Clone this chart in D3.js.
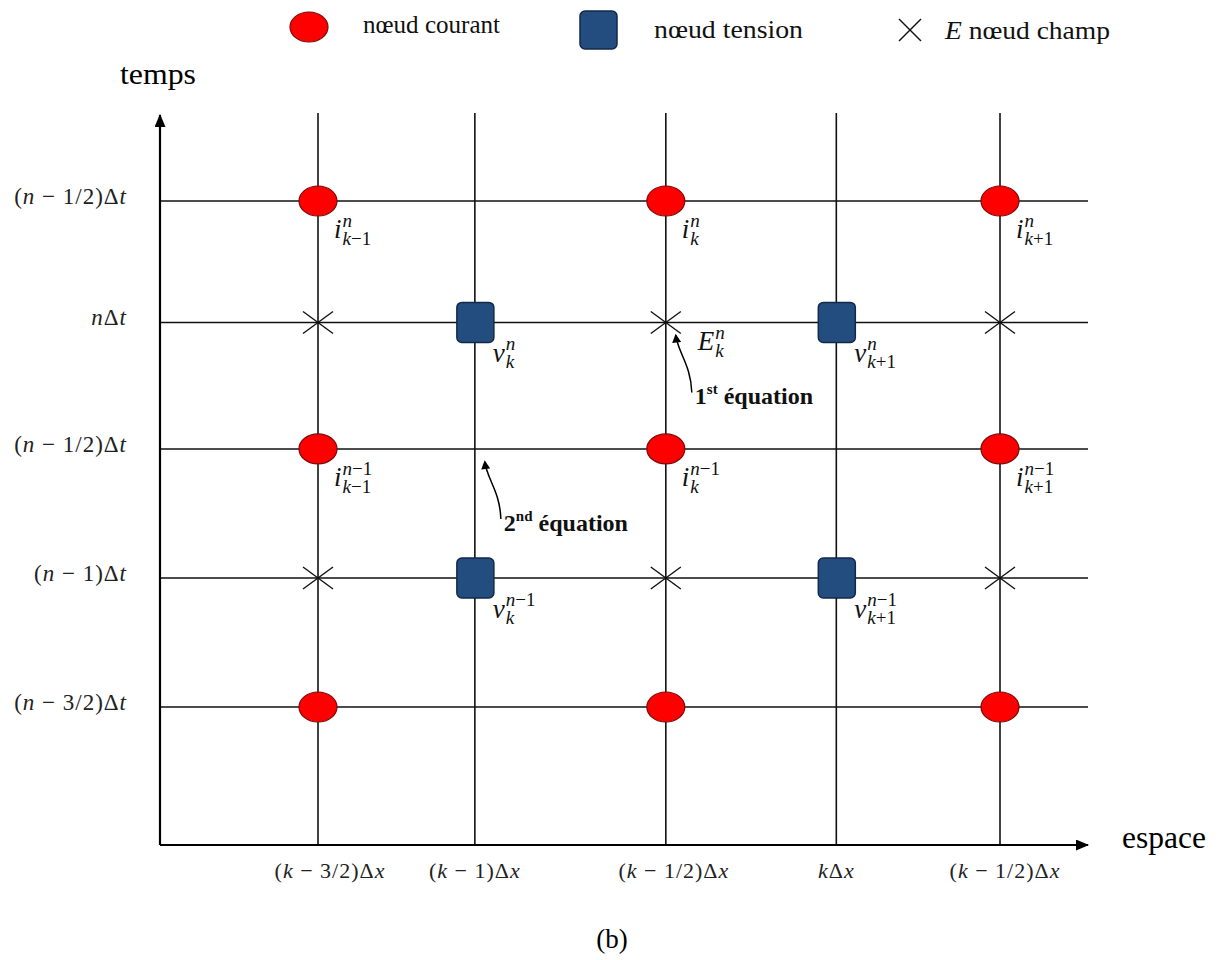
<!DOCTYPE html>
<html>
<head>
<meta charset="utf-8">
<script src="https://d3js.org/d3.v7.min.js"></script>
<style>
  body { margin: 0; background: white; }
  svg { display: block; }
</style>
</head>
<body>
<svg id="chart" width="1225" height="960"></svg>
<script>
const SERIF = "'Liberation Serif', 'DejaVu Serif', serif";

// grid positions (space / time steps)
const colPos = [-1.5, -1.04, -0.48, 0.02, 0.5];
const colLabels = ["(k − 3/2)Δx", "(k − 1)Δx", "(k − 1/2)Δx", "kΔx", "(k − 1/2)Δx"];
const rowPos = [0.5, 0.02, -0.48, -0.99, -1.5];
const rowLabels = ["(n − 1/2)Δt", "nΔt", "(n − 1/2)Δt", "(n − 1)Δt", "(n − 3/2)Δt"];

// nodes: current (red), voltage (blue), field (cross); col/row are indexes
const currentNodes = [
  {col: 0, row: 0, sup: "n", sub: "k−1"},
  {col: 2, row: 0, sup: "n", sub: "k"},
  {col: 4, row: 0, sup: "n", sub: "k+1"},
  {col: 0, row: 2, sup: "n−1", sub: "k−1"},
  {col: 2, row: 2, sup: "n−1", sub: "k"},
  {col: 4, row: 2, sup: "n−1", sub: "k+1"},
  {col: 0, row: 4, sup: "", sub: ""},
  {col: 2, row: 4, sup: "", sub: ""},
  {col: 4, row: 4, sup: "", sub: ""}
];
const voltageNodes = [
  {col: 1, row: 1, sup: "n", sub: "k"},
  {col: 3, row: 1, sup: "n", sub: "k+1"},
  {col: 1, row: 3, sup: "n−1", sub: "k"},
  {col: 3, row: 3, sup: "n−1", sub: "k+1"}
];
const fieldNodes = [
  {col: 0, row: 1, sup: "", sub: ""},
  {col: 2, row: 1, sup: "n", sub: "k"},
  {col: 4, row: 1, sup: "", sub: ""},
  {col: 0, row: 3, sup: "", sub: ""},
  {col: 2, row: 3, sup: "", sub: ""},
  {col: 4, row: 3, sup: "", sub: ""}
];
const legendLabels = ["nœud courant", "nœud  tension", "nœud champ"];
const equations = [
  {col: 2, row: 1, num: "1", ord: "st", text: " équation"},
  {col: 1, row: 2, num: "2", ord: "nd", text: " équation"}
];

const svg = d3.select("#chart");
const x = d3.scaleLinear().domain([-1.5, 0.5]).range([318, 1000]);
const y = d3.scaleLinear().domain([0.5, -1.5]).range([201, 707]);
const cx = i => x(colPos[i]), cy = i => y(rowPos[i]);
const x0 = 160, yBase = 845, xEnd = 1088;

const defs = svg.append("defs");
defs.append("marker").attr("id", "arrow")
  .attr("viewBox", "0 0 12 10").attr("refX", 11).attr("refY", 5)
  .attr("markerWidth", 14).attr("markerHeight", 11).attr("markerUnits", "userSpaceOnUse").attr("orient", "auto")
  .append("path").attr("d", "M0,0 L12,5 L0,10 z").attr("fill", "#000");
defs.append("marker").attr("id", "arrowSmall")
  .attr("viewBox", "0 0 10 10").attr("refX", 8).attr("refY", 5)
  .attr("markerWidth", 10).attr("markerHeight", 9).attr("markerUnits", "userSpaceOnUse").attr("orient", "auto")
  .append("path").attr("d", "M0,0 L10,5 L0,10 z").attr("fill", "#000");

// grid lines
svg.append("g").selectAll("line").data(colPos).join("line")
  .attr("x1", d => x(d)).attr("x2", d => x(d))
  .attr("y1", 113).attr("y2", yBase)
  .attr("stroke", "#111").attr("stroke-width", 1.6);
svg.append("g").selectAll("line").data(rowPos).join("line")
  .attr("x1", x0).attr("x2", xEnd)
  .attr("y1", d => y(d)).attr("y2", d => y(d))
  .attr("stroke", "#111").attr("stroke-width", 1.6);

// axes with arrows
svg.append("line").attr("x1", x0).attr("y1", yBase).attr("x2", x0).attr("y2", 115)
  .attr("stroke", "#000").attr("stroke-width", 2.2).attr("marker-end", "url(#arrow)");
svg.append("line").attr("x1", x0).attr("y1", yBase).attr("x2", xEnd).attr("y2", yBase)
  .attr("stroke", "#000").attr("stroke-width", 2.2).attr("marker-end", "url(#arrow)");

svg.append("text").attr("font-family", SERIF).attr("x", 120).attr("y", 84)
  .attr("font-size", 30).attr("textLength", 76).attr("lengthAdjust", "spacingAndGlyphs").text("temps");
svg.append("text").attr("font-family", SERIF).attr("x", 1122).attr("y", 848)
  .attr("font-size", 31).attr("textLength", 84).attr("lengthAdjust", "spacingAndGlyphs").text("espace");
svg.append("text").attr("font-family", SERIF).attr("x", 612).attr("y", 948)
  .attr("text-anchor", "middle").attr("font-size", 27).text("(b)");

// mixed italic text: latin letters italic, the rest upright
function mathText(sel, str) {
  const parts = str.match(/[a-zA-Z]+|[^a-zA-Z]+/g) || [];
  parts.forEach(p => {
    sel.append("tspan").attr("font-style", /[a-zA-Z]/.test(p) ? "italic" : "normal").text(p);
  });
}

// time tick labels
svg.append("g").selectAll("text").data(rowLabels).join("text")
  .attr("font-family", SERIF).attr("font-size", 23).attr("letter-spacing", 1).attr("fill", "#222")
  .attr("x", 127).attr("y", (d, i) => cy(i) + 3)
  .attr("text-anchor", "end")
  .each(function(d) { mathText(d3.select(this), d); });

// space tick labels
svg.append("g").selectAll("text").data(colLabels).join("text")
  .attr("font-family", SERIF).attr("font-size", 22).attr("letter-spacing", 1).attr("fill", "#222")
  .attr("x", (d, i) => cx(i) + (i === 0 ? 12 : i === 2 ? 8 : i === 4 ? 5 : 0)).attr("y", 878)
  .attr("text-anchor", "middle")
  .each(function(d) { mathText(d3.select(this), d); });

// nodes
svg.append("g").selectAll("g").data(fieldNodes).join("g")
  .attr("transform", d => `translate(${cx(d.col)},${cy(d.row)})`)
  .each(function() {
    const g = d3.select(this);
    g.append("line").attr("x1", -15).attr("y1", -11).attr("x2", 15).attr("y2", 11);
    g.append("line").attr("x1", -15).attr("y1", 11).attr("x2", 15).attr("y2", -11);
  })
  .selectAll("line").attr("stroke", "#111").attr("stroke-width", 1.4);

svg.append("g").selectAll("ellipse").data(currentNodes).join("ellipse")
  .attr("cx", d => cx(d.col)).attr("cy", d => cy(d.row))
  .attr("rx", 19).attr("ry", 15)
  .attr("fill", "#ff0000").attr("stroke", "#7a0a0a").attr("stroke-width", 1.2);

svg.append("g").selectAll("rect").data(voltageNodes).join("rect")
  .attr("x", d => cx(d.col) - 18).attr("y", d => cy(d.row) - 20)
  .attr("width", 37).attr("height", 40).attr("rx", 5)
  .attr("fill", "#234d7e").attr("stroke", "#13294a").attr("stroke-width", 1.5);

// node labels: one text element, base letter then stacked sup/sub tspans
function nodeLabel(d, base, dx, by, supY, subY) {
  if (!d.sup) return;
  const px = cx(d.col) + dx, py = cy(d.row);
  const t = svg.append("text").attr("font-family", SERIF).attr("fill", "#111")
    .attr("x", px).attr("y", py + by);
  const b = t.append("tspan").attr("font-style", "italic").attr("font-size", 27).text(base);
  const sx = px + b.node().getComputedTextLength() + 1;
  const sup = t.append("tspan").attr("font-size", 19).attr("x", sx).attr("y", py + supY);
  mathText(sup, d.sup);
  const sub = t.append("tspan").attr("font-size", 19).attr("x", sx).attr("y", py + subY);
  mathText(sub, d.sub);
}
currentNodes.forEach(d => nodeLabel(d, "i", 16, 37, 26, 44));
voltageNodes.forEach(d => nodeLabel(d, "v", 18, 40, 28, 46));
fieldNodes.forEach(d => nodeLabel(d, "E", 32, 28, 17, 35));

// equation annotations with curved arrows
equations.forEach(e => {
  const px = cx(e.col), py = cy(e.row);
  const sx = px + 26, sy = py + 70;
  svg.append("path")
    .attr("d", `M${sx},${sy} C${sx - 1},${sy - 28} ${px + 12},${py + 30} ${px + 10},${py + 13}`)
    .attr("fill", "none").attr("stroke", "#000").attr("stroke-width", 1.5)
    .attr("marker-end", "url(#arrowSmall)");
  const t = svg.append("text").attr("font-family", SERIF).attr("font-weight", "bold")
    .attr("font-size", 24).attr("fill", "#111").attr("x", sx + 3).attr("y", sy + 12);
  t.append("tspan").text(e.num);
  t.append("tspan").attr("font-size", 15).attr("dy", -10).text(e.ord);
  t.append("tspan").attr("dy", 10).text(e.text);
});

// legend
const legend = svg.append("g").attr("fill", "#111");
legend.append("ellipse").attr("cx", 309).attr("cy", 27).attr("rx", 19).attr("ry", 15)
  .attr("fill", "#ff0000").attr("stroke", "#7a0a0a").attr("stroke-width", 1.2);
legend.append("text").attr("font-family", SERIF).attr("x", 363).attr("y", 33).attr("font-size", 25)
  .attr("textLength", 137).attr("lengthAdjust", "spacingAndGlyphs").text(legendLabels[0]);
legend.append("rect").attr("x", 580).attr("y", 11).attr("width", 37).attr("height", 38).attr("rx", 5)
  .attr("fill", "#234d7e").attr("stroke", "#13294a").attr("stroke-width", 1.5);
legend.append("text").attr("font-family", SERIF).attr("x", 654).attr("y", 38).attr("font-size", 25)
  .attr("textLength", 149).attr("lengthAdjust", "spacingAndGlyphs").text(legendLabels[1]);
legend.append("line").attr("x1", 899).attr("y1", 19).attr("x2", 921).attr("y2", 41)
  .attr("stroke", "#111").attr("stroke-width", 1.5);
legend.append("line").attr("x1", 899).attr("y1", 41).attr("x2", 921).attr("y2", 19)
  .attr("stroke", "#111").attr("stroke-width", 1.5);
const lt = legend.append("text").attr("font-family", SERIF).attr("x", 945).attr("y", 39).attr("font-size", 25)
  .attr("textLength", 165).attr("lengthAdjust", "spacingAndGlyphs");
lt.append("tspan").attr("font-style", "italic").text("E");
lt.append("tspan").text(" " + legendLabels[2]);
</script>
</body>
</html>
